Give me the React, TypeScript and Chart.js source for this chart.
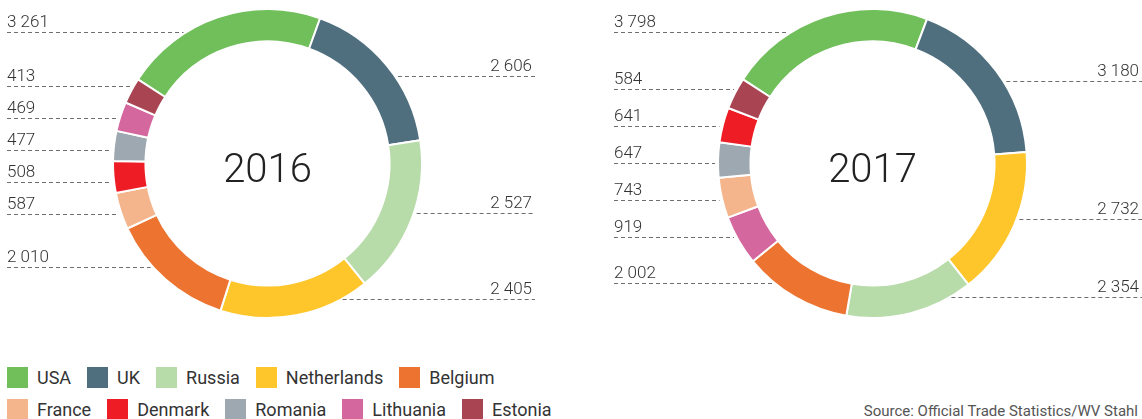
import React, { useEffect, useRef } from 'react';
import { Chart, registerables } from 'chart.js';

Chart.register(...registerables);

// ---- data ----
const countries2016 = ['USA', 'UK', 'Russia', 'Netherlands', 'Belgium', 'France', 'Denmark', 'Romania', 'Lithuania', 'Estonia'];
const values2016 = [3261, 2606, 2527, 2405, 2010, 587, 508, 477, 469, 413];

const countries2017 = ['USA', 'UK', 'Netherlands', 'Russia', 'Belgium', 'Lithuania', 'France', 'Romania', 'Denmark', 'Estonia'];
const values2017 = [3798, 3180, 2732, 2354, 2002, 919, 743, 647, 641, 584];

const legendRow1 = ['USA', 'UK', 'Russia', 'Netherlands', 'Belgium'];
const legendRow2 = ['France', 'Denmark', 'Romania', 'Lithuania', 'Estonia'];

const sourceText = 'Source: Official Trade Statistics/WV Stahl';

// ---- styles ----
const COLORS: Record<string, string> = {
  USA: '#70bf5a',
  UK: '#4f6f7f',
  Russia: '#b7dba9',
  Netherlands: '#fec62b',
  Belgium: '#ec7430',
  France: '#f4b58c',
  Denmark: '#ee1c25',
  Romania: '#9da8b0',
  Lithuania: '#d4679d',
  Estonia: '#a94552',
};

const fmt = (v: number) => String(v).replace(/\B(?=(\d{3})+(?!\d))/g, ' ');

type Item = { value: number; left: boolean; y: number; cx: number; cy: number; R: number };

function spread(items: Item[], gap: number) {
  const sorted = [...items].sort((a, b) => a.y - b.y);
  type Cl = { items: Item[]; anchors: number[]; start: number };
  const clusters: Cl[] = [];
  for (const it of sorted) {
    clusters.push({ items: [it], anchors: [it.y], start: it.y });
    while (clusters.length > 1) {
      const b = clusters[clusters.length - 1];
      const a = clusters[clusters.length - 2];
      const aEnd = a.start + (a.items.length - 1) * gap;
      if (b.start - aEnd >= gap) break;
      const items2 = a.items.concat(b.items);
      const anchors = a.anchors.concat(b.anchors);
      const mean = anchors.reduce((s, v) => s + v, 0) / anchors.length;
      const start = mean - ((items2.length - 1) / 2) * gap;
      clusters.splice(clusters.length - 2, 2, { items: items2, anchors, start });
    }
  }
  const out: { item: Item; y: number }[] = [];
  for (const c of clusters) c.items.forEach((it, k) => out.push({ item: it, y: c.start + k * gap }));
  return out;
}

const labelPlugin = {
  id: 'donutLabels',
  afterDraw(chart: any, _args: any, opts: any) {
    const ctx: CanvasRenderingContext2D = chart.ctx;
    const meta = chart.getDatasetMeta(0);
    const values: number[] = chart.data.datasets[0].data;
    const items: Item[] = meta.data.map((arc: any, i: number) => {
      const p = arc.getProps(['x', 'y', 'startAngle', 'endAngle', 'outerRadius', 'innerRadius'], true);
      const mid = (p.startAngle + p.endAngle) / 2;
      const rMid = (p.outerRadius + p.innerRadius) / 2;
      return {
        value: values[i],
        left: Math.cos(mid) < 0,
        y: p.y + rMid * Math.sin(mid),
        cx: p.x,
        cy: p.y,
        R: p.outerRadius - 1,
      };
    });
    const placed = [
      ...spread(items.filter((d) => d.left), opts.leftGap),
      ...spread(items.filter((d) => !d.left), opts.rightGap),
    ];
    ctx.save();
    for (const { item, y } of placed) {
      const ly = Math.round(y) + 0.5;
      const dy = ly - item.cy;
      const dx = Math.sqrt(Math.max(item.R * item.R - dy * dy, 0));
      ctx.beginPath();
      ctx.setLineDash([4, 3]);
      ctx.lineWidth = 1;
      ctx.strokeStyle = '#6e6e6e';
      if (item.left) {
        ctx.moveTo(opts.leftX, ly);
        ctx.lineTo(item.cx - dx - 4, ly);
      } else {
        ctx.moveTo(item.cx + dx + 4, ly);
        ctx.lineTo(opts.rightX, ly);
      }
      ctx.stroke();
      ctx.setLineDash([]);
      ctx.font = '300 17px Roboto, "Open Sans", sans-serif';
      ctx.fillStyle = '#333333';
      ctx.textBaseline = 'alphabetic';
      if (item.left) {
        ctx.textAlign = 'left';
        ctx.fillText(fmt(item.value), opts.leftX, ly - 5.5);
      } else {
        ctx.textAlign = 'right';
        ctx.fillText(fmt(item.value), opts.rightX - 3, ly - 5.5);
      }
    }
    const c = items[0];
    ctx.font = '300 40px Roboto, "Open Sans", sans-serif';
    ctx.fillStyle = '#222222';
    ctx.textAlign = 'center';
    ctx.textBaseline = 'alphabetic';
    ctx.fillText(opts.title, c.cx, c.cy + 18);
    ctx.restore();
  },
};

type DonutProps = {
  labels: string[];
  values: number[];
  title: string;
  left: number;
  padding: { left: number; right: number; top: number; bottom: number };
  leftX: number;
  rightX: number;
  leftGap: number;
  rightGap: number;
};

const W = 571;
const H = 345;

function Donut(props: DonutProps) {
  const ref = useRef<HTMLCanvasElement | null>(null);
  useEffect(() => {
    if (!ref.current) return;
    const chart = new Chart(ref.current, {
      type: 'doughnut',
      data: {
        labels: props.labels,
        datasets: [
          {
            data: props.values,
            backgroundColor: props.labels.map((l) => COLORS[l]),
            borderColor: '#ffffff',
            borderWidth: 2,
            hoverOffset: 0,
          },
        ],
      },
      options: {
        responsive: false,
        animation: false,
        devicePixelRatio: 1,
        cutout: '79%',
        rotation: -57,
        layout: { padding: props.padding },
        events: [],
        plugins: {
          legend: { display: false },
          tooltip: { enabled: false },
          donutLabels: {
            title: props.title,
            leftX: props.leftX,
            rightX: props.rightX,
            leftGap: props.leftGap,
            rightGap: props.rightGap,
          },
        } as any,
      },
      plugins: [labelPlugin as any],
    });
    return () => chart.destroy();
  }, []);
  return (
    <canvas
      ref={ref}
      width={W}
      height={H}
      style={{ position: 'absolute', left: props.left, top: 0, width: W, height: H }}
    />
  );
}

function LegendRow({ names }: { names: string[] }) {
  return (
    <div style={{ display: 'flex', alignItems: 'center', height: 21 }}>
      {names.map((n) => (
        <div key={n} style={{ display: 'flex', alignItems: 'center', marginRight: 16 }}>
          <span style={{ display: 'inline-block', width: 21, height: 21, background: COLORS[n], marginRight: 9 }} />
          <span style={{ font: '18px Roboto, "Open Sans", sans-serif', color: '#333', lineHeight: '21px', whiteSpace: 'nowrap' }}>{n}</span>
        </div>
      ))}
    </div>
  );
}

export default function App() {
  return (
    <div
      style={{
        position: 'absolute',
        left: 0,
        top: 0,
        width: 1142,
        height: 419,
        overflow: 'hidden',
        background: '#ffffff',
      }}
    >
      <Donut
        labels={countries2016}
        values={values2016}
        title="2016"
        left={0}
        padding={{ left: 112, right: W - 423, top: 8, bottom: H - 319 }}
        leftX={7}
        rightX={535}
        leftGap={32}
        rightGap={32}
      />
      <Donut
        labels={countries2017}
        values={values2017}
        title="2017"
        left={571}
        padding={{ left: 146, right: W - 457, top: 8, bottom: H - 319 }}
        leftX={43}
        rightX={571}
        leftGap={37}
        rightGap={37}
      />
      <div style={{ position: 'absolute', left: 7, top: 367, display: 'flex', flexDirection: 'column', rowGap: 11 }}>
        <LegendRow names={legendRow1} />
        <LegendRow names={legendRow2} />
      </div>
      <div
        style={{
          position: 'absolute',
          right: 4,
          top: 403,
          font: '15px Roboto, "Open Sans", sans-serif',
          lineHeight: '17px',
          color: '#555',
          whiteSpace: 'nowrap',
        }}
      >
        {sourceText}
      </div>
    </div>
  );
}
